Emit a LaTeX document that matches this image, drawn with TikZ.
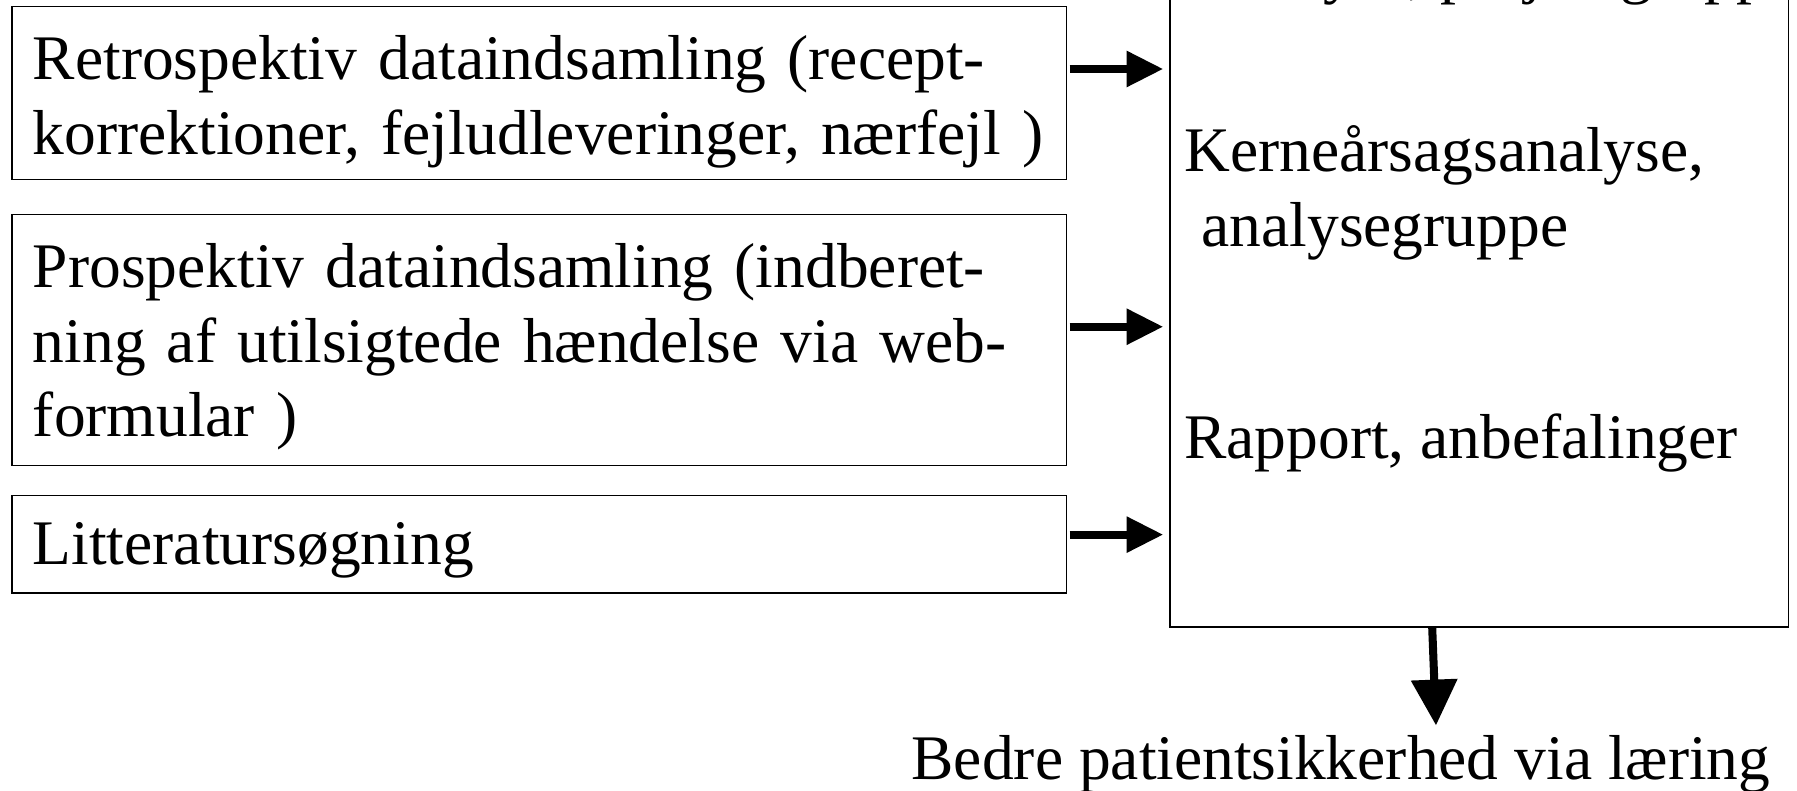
\documentclass[tikz,border=0pt]{standalone}
\usepackage{fontspec}
\setmainfont{Liberation Serif}
\usepackage{tikz}
\usetikzlibrary{positioning,arrows.meta}
\tikzstyle{inbox} = [rectangle, draw=black, line width=0.7pt, text width=442pt, inner xsep=9pt,
inner ysep=0pt, align=left, text height=32pt, anchor=north west]
\tikzstyle{corebox} = [rectangle, draw=black, line width=0.7pt, minimum width=270pt,
minimum height=294pt, inner sep=0pt, anchor=south west]
\tikzstyle{label} = [inner sep=0pt, anchor=base west]
\tikzstyle{fat} = [line width=3.4pt, -{Triangle[length=16pt,width=15pt]}, shorten >=2.5pt, shorten <=1pt]

\begin{document}
\begin{tikzpicture}[x=0.5pt, y=-0.5pt, font=\fontsize{27.7}{32.5}\selectfont]
            \useasboundingbox (0,0) rectangle (1568,690);

            % Input boxes
            \node(retro) [inbox, text depth=43.5pt] at (10,5) {Retrospektiv dataindsamling (recept-\\korrektioner, fejludleveringer, nærfejl )};
            \node(prosp) [inbox, text depth=77.5pt, below=14.5pt of retro.south west, anchor=north west] {Prospektiv dataindsamling (indberet-\\ning af utilsigtede hændelse via web-\\formular )};
            \node(litt) [inbox, text height=30pt, text depth=12.5pt, below=12.5pt of prosp.south west, anchor=north west] {Litteratursøgning};

            % Analysis box
            \node(core) [corebox] at (1020,548) {};
            \node(projgrp) [label] at (1047,-7) {Analyse, projektgruppe};
            \node(rca) [label] at (1033,150) {Kerneårsagsanalyse,};
            \node(rcagrp) [label] at (1048,215) {analysegruppe};
            \node(report) [label] at (1033,400) {Rapport, anbefalinger};

            % Result
            \node(result) [label] at (795,680) {Bedre patientsikkerhed via læring};
            \coordinate (tip) at (1253,633);

            % Draw Arrows
            \draw[fat] ([yshift=10.5pt]retro.east) -- ([yshift=10.5pt]retro.east -| core.west);
            \draw[fat] ([yshift=5.75pt]prosp.east) -- ([yshift=5.75pt]prosp.east -| core.west);
            \draw[fat] ([yshift=4.25pt]litt.east) -- ([yshift=4.25pt]litt.east -| core.west);
            \draw[line width=3.5pt, -{Triangle[length=20pt,width=19.5pt]}] ([xshift=-20.5pt]core.south) -- (tip);
\end{tikzpicture}
\end{document}
